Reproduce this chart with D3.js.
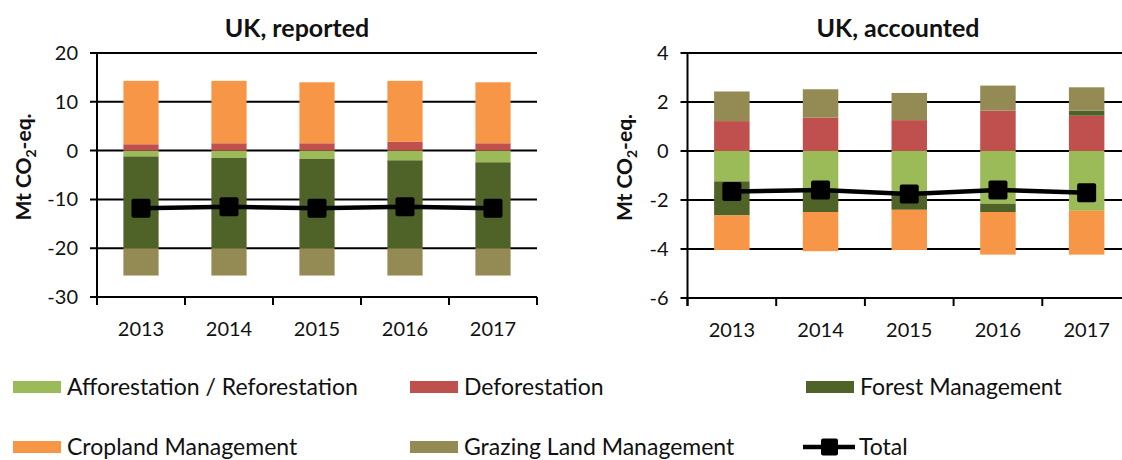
<!DOCTYPE html>
<html>
<head>
<meta charset="utf-8">
<script src="https://cdn.jsdelivr.net/npm/d3@7"></script>
<style>
  html, body { margin: 0; padding: 0; background: #fff; }
  svg { display: block; font-family: Lato, "Open Sans", sans-serif; }
</style>
</head>
<body>
<svg id="chart" width="1122" height="460"></svg>
<script>
// ---- data ----
const years = ["2013", "2014", "2015", "2016", "2017"];
const seriesNames = ["Afforestation / Reforestation", "Deforestation", "Forest Management", "Cropland Management", "Grazing Land Management"];
const seriesColors = ["#9BBB59", "#C0504D", "#4F6228", "#F79646", "#948A54"];

// UK, reported
const repAR = [-1.2, -1.5, -1.7, -2.0, -2.4];
const repDefor = [1.3, 1.5, 1.5, 1.8, 1.5];
const repFM = [-18.8, -18.5, -18.3, -18.0, -17.6];
const repCrop = [13.0, 12.8, 12.5, 12.5, 12.5];
const repGraz = [-5.6, -5.6, -5.6, -5.6, -5.6];
const repTotal = [-11.8, -11.5, -11.8, -11.5, -11.8];
const repTicks = [20, 10, 0, -10, -20, -30];

// UK, accounted
const accAR = [-1.24, -1.6, -1.75, -2.15, -2.44];
const accDefor = [1.22, 1.36, 1.26, 1.65, 1.44];
const accFM = [-1.39, -0.89, -0.65, -0.34, 0.21];
const accCrop = [-1.41, -1.6, -1.64, -1.74, -1.79];
const accGraz = [1.21, 1.16, 1.11, 1.02, 0.95];
const accTotal = [-1.65, -1.59, -1.76, -1.59, -1.70];
const accTicks = [4, 2, 0, -2, -4, -6];

const svg = d3.select("#chart");

function drawPanel(opts) {
  const { title, titleX, x0, x1, yTop, yBot, domain, ticks, series, total, axisTitleX } = opts;
  const g = svg.append("g");
  const xb = d3.scaleBand().domain(years).range([x0, x1]);
  const y = d3.scaleLinear().domain(domain).range([yBot, yTop]);

  // gridlines with left tick extension
  g.append("g").selectAll("line").data(ticks).join("line")
    .attr("x1", x0 - 7).attr("x2", x1)
    .attr("y1", d => y(d)).attr("y2", d => y(d))
    .attr("stroke", "#000").attr("stroke-width", 2);

  // stacked bars
  const rows = years.map((yr, i) => {
    const r = { year: yr };
    seriesNames.forEach((s, k) => r[s] = series[k][i]);
    return r;
  });
  const stack = d3.stack().keys(seriesNames).offset(d3.stackOffsetDiverging)(rows);
  const bw = xb.bandwidth() * 0.4;
  stack.forEach((layer, k) => {
    g.append("g").selectAll("rect").data(layer).join("rect")
      .attr("x", d => xb(d.data.year) + (xb.bandwidth() - bw) / 2)
      .attr("width", bw)
      .attr("y", d => y(Math.max(d[0], d[1])))
      .attr("height", d => Math.abs(y(d[0]) - y(d[1])))
      .attr("fill", seriesColors[k]);
  });

  // axes
  g.append("line").attr("x1", x0).attr("x2", x0).attr("y1", yTop).attr("y2", yBot + 8)
    .attr("stroke", "#000").attr("stroke-width", 2);
  g.append("g").selectAll("line").data(d3.range(years.length + 1)).join("line")
    .attr("x1", d => x0 + d * xb.step()).attr("x2", d => x0 + d * xb.step())
    .attr("y1", yBot).attr("y2", yBot + 8)
    .attr("stroke", "#000").attr("stroke-width", 2);

  // y tick labels
  g.append("g").selectAll("text").data(ticks).join("text")
    .attr("x", x0 - 19).attr("y", d => y(d)).attr("dy", "0.35em")
    .attr("text-anchor", "end").attr("font-size", 20).attr("fill", "#111")
    .text(d => d);

  // x labels
  g.append("g").selectAll("text").data(years).join("text")
    .attr("x", d => xb(d) + xb.bandwidth() / 2).attr("y", yBot + 39)
    .attr("text-anchor", "middle").attr("font-size", 20).attr("fill", "#111")
    .text(d => d);

  // total line + markers
  const cx = d => xb(d) + xb.bandwidth() / 2;
  const line = d3.line().x((d, i) => cx(years[i])).y(d => y(d));
  g.append("path").datum(total).attr("d", line)
    .attr("fill", "none").attr("stroke", "#000").attr("stroke-width", 4.5);
  g.append("g").selectAll("rect").data(total).join("rect")
    .attr("x", (d, i) => cx(years[i]) - 9.5).attr("y", d => y(d) - 9.5)
    .attr("width", 19).attr("height", 19).attr("rx", 2)
    .attr("fill", "#000");

  // title
  g.append("text").attr("x", titleX).attr("y", 37).attr("text-anchor", "middle")
    .attr("font-size", 25).attr("font-weight", "bold").attr("fill", "#111").text(title);

  // y axis title
  const at = g.append("text")
    .attr("transform", `translate(${axisTitleX},${(yTop + yBot) / 2 - 8}) rotate(-90)`)
    .attr("text-anchor", "middle").attr("font-size", 21).attr("font-weight", "bold").attr("fill", "#111");
  at.append("tspan").text("Mt CO");
  at.append("tspan").attr("font-size", 14).attr("dy", 5).text("2");
  at.append("tspan").attr("dy", -5).text("-eq.");
}

drawPanel({
  title: "UK, reported", titleX: 297, x0: 97, x1: 537, yTop: 53, yBot: 297,
  domain: [-30, 20], ticks: repTicks,
  series: [repAR, repDefor, repFM, repCrop, repGraz], total: repTotal, axisTitleX: 31
});
drawPanel({
  title: "UK, accounted", titleX: 898, x0: 687.5, x1: 1131, yTop: 53, yBot: 298,
  domain: [-6, 4], ticks: accTicks,
  series: [accAR, accDefor, accFM, accCrop, accGraz], total: accTotal, axisTitleX: 632
});

// legend
const legendItems = [
  { name: seriesNames[0], color: seriesColors[0], x: 13, y: 387 },
  { name: seriesNames[1], color: seriesColors[1], x: 410, y: 387 },
  { name: seriesNames[2], color: seriesColors[2], x: 806, y: 387 },
  { name: seriesNames[3], color: seriesColors[3], x: 13, y: 447 },
  { name: seriesNames[4], color: seriesColors[4], x: 410, y: 447 },
  { name: "Total", color: null, x: 803, y: 447 }
];
const lg = svg.append("g");
legendItems.forEach(it => {
  if (it.color) {
    lg.append("rect").attr("x", it.x).attr("y", it.y - 6).attr("width", 48).attr("height", 12).attr("fill", it.color);
    lg.append("text").attr("x", it.x + 54).attr("y", it.y).attr("dy", "0.35em")
      .attr("font-size", 23).attr("fill", "#111").text(it.name);
  } else {
    lg.append("line").attr("x1", it.x).attr("x2", it.x + 52).attr("y1", it.y).attr("y2", it.y)
      .attr("stroke", "#000").attr("stroke-width", 4.5);
    lg.append("rect").attr("x", it.x + 18).attr("y", it.y - 8.5).attr("width", 17).attr("height", 17).attr("rx", 2).attr("fill", "#000");
    lg.append("text").attr("x", it.x + 56).attr("y", it.y).attr("dy", "0.35em")
      .attr("font-size", 23).attr("fill", "#111").text(it.name);
  }
});
</script>
</body>
</html>
